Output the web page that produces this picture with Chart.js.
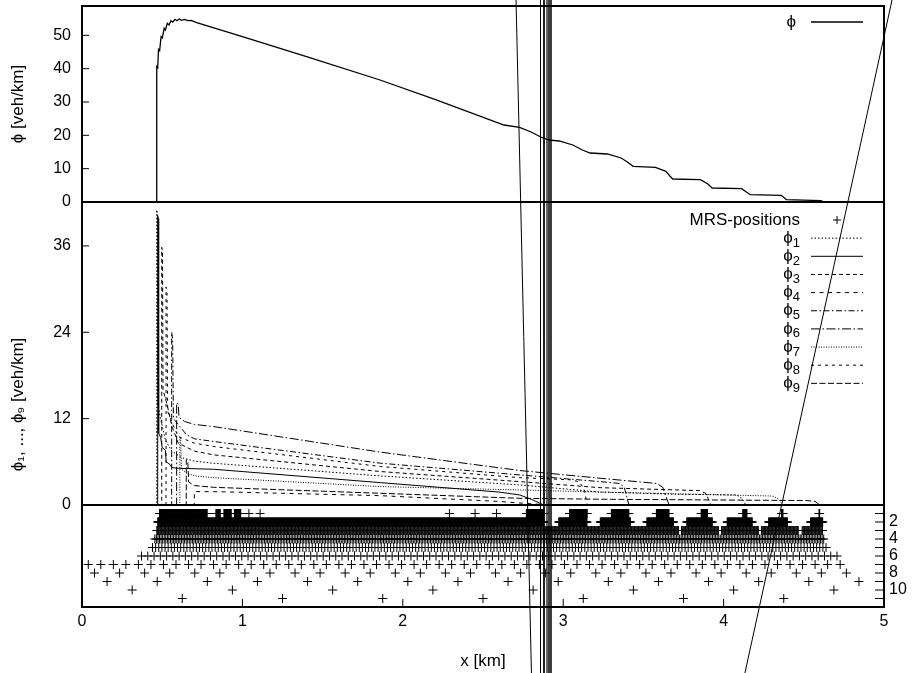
<!DOCTYPE html>
<html>
<head>
<meta charset="utf-8">
<script src="https://cdn.jsdelivr.net/npm/chart.js@4.4.1/dist/chart.umd.min.js"></script>
<style>
  html, body { margin: 0; padding: 0; background: #fff; }
  #wrap { width: 918px; height: 673px; }
</style>
</head>
<body>
<div id="wrap"><canvas id="c" width="918" height="673"></canvas></div>
<script>
// ---- axis ticks -----------------------------------------------------------
const xTicks = [0, 1, 2, 3, 4, 5];
const phiTicks = [0, 10, 20, 30, 40, 50];
const phiPartTicks = [0, 12, 24, 36];
const levelTicks = [1, 2, 3, 4, 5, 6, 7, 8, 9, 10, 11];
const levelLabels = [2, 4, 6, 8, 10];

// ---- total density phi(x) [veh/km] ---------------------------------------
const phiTotal = [
  [0, 0], [0.466, 0], [0.466, 40.6], [0.472, 40.3], [0.477, 45.8], [0.484, 45.4],
  [0.493, 49.6], [0.501, 49.2], [0.512, 52.1], [0.520, 51.6], [0.532, 53.6], [0.542, 53.1],
  [0.555, 54.4], [0.566, 54.0], [0.580, 54.8], [0.592, 54.4], [0.606, 54.9], [0.620, 54.5],
  [0.640, 54.8], [0.660, 54.4], [0.680, 54.5], [0.715, 53.8], [1.0, 49.6], [1.4, 43.6],
  [1.858, 36.6], [2.2, 30.8], [2.631, 23.1], [2.728, 22.4], [2.80, 21.0], [2.86, 19.5],
  [2.91, 18.6], [2.975, 18.3], [3.06, 17.1], [3.12, 15.6], [3.168, 14.7], [3.275, 14.4],
  [3.361, 13.2], [3.40, 12.0], [3.436, 10.7], [3.575, 10.4], [3.64, 9.2], [3.665, 7.8],
  [3.683, 6.9], [3.855, 6.7], [3.90, 5.5], [3.929, 4.2], [4.112, 4.0], [4.14, 3.1],
  [4.166, 2.2], [4.359, 2.0], [4.378, 1.3], [4.391, 0.7], [4.606, 0.4], [4.63, 0], [5, 0]
];

// ---- partial densities phi_1 ... phi_9 [veh/km] ---------------------------
const phi1 = [[0, 0], [0.466, 0], [0.466, 41.0], [0.470, 40.5], [0.472, 14.0], [0.49, 12.0],
  [0.52, 9.0], [0.56, 7.5], [0.62, 6.6], [0.70, 6.1], [0.82, 5.8], [1.86, 4.04], [2.73, 2.79],
  [3.23, 1.8], [3.70, 1.5], [4.08, 1.4], [4.11, 1.0], [4.14, 0], [5, 0]];
const phi2 = [[0, 0], [0.472, 0], [0.472, 40.2], [0.476, 39.8], [0.478, 10.0], [0.49, 9.4],
  [0.50, 8.0], [0.52, 7.6], [0.525, 6.0], [0.55, 5.6], [0.56, 5.2], [0.60, 5.1], [0.82, 4.97],
  [1.86, 3.11], [2.60, 1.8], [2.73, 1.39], [2.80, 0.8], [2.88, 0], [5, 0]];
const phi3 = [[0, 0], [0.497, 0], [0.497, 35.8], [0.502, 35.3], [0.505, 16.0], [0.53, 14.0],
  [0.56, 11.0], [0.60, 8.6], [0.70, 7.5], [0.82, 6.97], [1.86, 4.65], [2.73, 3.25],
  [3.23, 2.41], [3.85, 2.0], [3.89, 1.6], [3.92, 0], [5, 0]];
const phi4 = [[0, 0], [0.70, 0], [0.70, 1.86], [0.82, 1.86], [1.86, 1.3], [2.60, 0.5],
  [2.73, 0.28], [2.85, 0.1], [2.90, 0], [5, 0]];
const phi5 = [[0, 0], [0.559, 0], [0.559, 24.0], [0.565, 23.0], [0.570, 12.0], [0.60, 11.2],
  [0.65, 9.8], [0.70, 9.2], [0.82, 8.83], [1.86, 5.81], [2.73, 4.18], [3.23, 3.25],
  [3.35, 3.0], [3.38, 2.5], [3.41, 0], [5, 0]];
const phi6 = [[0, 0], [0.59, 0], [0.59, 14.2], [0.60, 14.0], [0.605, 12.2], [0.64, 11.6],
  [0.70, 11.2], [0.82, 10.9], [1.86, 7.35], [2.73, 4.79], [3.23, 3.72], [3.58, 3.0],
  [3.62, 2.5], [3.66, 0], [5, 0]];
const phi7 = [[0, 0], [0.61, 0], [0.61, 9.5], [0.615, 9.3], [0.62, 5.0], [0.66, 4.3],
  [0.72, 4.0], [0.82, 3.8], [1.86, 2.56], [2.73, 2.09], [3.23, 1.8], [4.30, 1.25],
  [4.34, 0.9], [4.37, 0], [5, 0]];
const phi8 = [[0, 0], [0.524, 0], [0.524, 30.3], [0.530, 29.5], [0.534, 13.0], [0.56, 11.5],
  [0.60, 9.5], [0.70, 8.6], [0.82, 8.13], [1.86, 5.35], [2.73, 3.8], [3.05, 3.5],
  [3.10, 3.2], [3.13, 2.3], [3.15, 0], [5, 0]];
const phi9 = [[0, 0], [0.65, 0], [0.65, 6.3], [0.66, 6.0], [0.665, 3.2], [0.70, 2.7],
  [0.82, 2.46], [1.86, 1.63], [2.73, 0.93], [3.30, 0.79], [4.52, 0.62], [4.57, 0.5],
  [4.60, 0], [5, 0]];

const partLabels = ['1', '2', '3', '4', '5', '6', '7', '8', '9'];
const partSeries = [phi1, phi2, phi3, phi4, phi5, phi6, phi7, phi8, phi9];
const partDash = [[1.5, 2], [], [4, 3], [4, 4.5], [6, 2.5, 1.5, 2.5], [9, 2.5, 1.5, 2.5],
  [1, 1.5], [3, 4], [6, 2.5]];

// ---- MRS positions: occupied x-ranges [km] on each refinement level -------
// level L holds the dyadic grid points of spacing 5/2^(13-L) km
const mrsLevel1 = [[0.483, 0.78], [0.835, 0.862], [0.885, 0.93], [0.95, 0.99], [1.04, 1.04],
  [1.11, 1.11], [2.29, 2.29], [2.45, 2.45], [2.585, 2.585], [2.77, 2.88], [3.04, 3.15],
  [3.30, 3.41], [3.58, 3.66], [3.86, 3.90], [4.12, 4.145], [4.36, 4.37], [4.595, 4.60]];
const mrsLevel2 = [[0.472, 2.88], [2.97, 3.15], [3.23, 3.42], [3.52, 3.69], [3.77, 3.93],
  [4.02, 4.18], [4.28, 4.40], [4.54, 4.62]];
const mrsLevel3 = [[0.462, 3.72], [3.735, 3.97], [3.985, 4.22], [4.235, 4.47], [4.485, 4.62]];
const mrsLevel4 = [[0.452, 4.63]];
const mrsLevel5 = [[0.43, 4.65]];
const mrsLevel6 = [[0.35, 4.73]];
const mrsLevel7 = [[0.039, 4.80]];
const mrsLevel8 = [[0.078, 4.92]];
const mrsLevel9 = [[0.156, 4.85]];
const mrsLevel10 = [[0.3125, 4.69]];
const mrsLevel11 = [[0.625, 4.375]];
const mrsByLevel = [mrsLevel1, mrsLevel2, mrsLevel3, mrsLevel4, mrsLevel5, mrsLevel6,
  mrsLevel7, mrsLevel8, mrsLevel9, mrsLevel10, mrsLevel11];

// ---- straight lines crossing the whole figure (x [km], phi of upper panel) -
const crossLines = [
  { pts: [[2.706, 60.6], [2.802, -141.3]], w: 1 },
  { pts: [[2.8585, 60.6], [2.8585, -141.3]], w: 1 },
  { pts: [[2.8803, 60.6], [2.8803, -141.3]], w: 1 },
  { pts: [[2.8990, 60.6], [2.8990, -141.3]], w: 1.2 },
  { pts: [[2.9115, 60.6], [2.9115, -141.3]], w: 1.5 },
  { pts: [[2.9239, 60.6], [2.9239, -141.3]], w: 1.5 },
  { pts: [[5.050, 60.6], [4.133, -141.3]], w: 1 }
];

// ---------------------------------------------------------------------------
const FONT = '"Liberation Sans", Arial, Helvetica, sans-serif';
const PHI = 'ϕ';
const toXY = arr => arr.map(([x, y]) => ({ x, y }));

function levelPoints(level, ranges) {
  const h = 5 / Math.pow(2, 14 - level);
  const pts = [];
  ranges.forEach(([a, b]) => {
    const k0 = Math.ceil(a / h - 1e-9), k1 = Math.floor(b / h + 1e-9);
    let n = 0;
    for (let k = k0; k <= k1; k++) {
      if (level !== 11 && k % 2 === 0) continue;
      pts.push({ x: k * h, y: level }); n++;
    }
    if (!n) {
      let k = Math.round(a / h);
      if (level !== 11 && k % 2 === 0) k += 1;
      pts.push({ x: k * h, y: level });
    }
  });
  return pts;
}
const mrsPoints = [];
mrsByLevel.forEach((r, i) => mrsPoints.push(...levelPoints(i + 1, r)));

const datasets = [];
datasets.push({
  label: PHI, data: toXY(phiTotal), yAxisID: 'yTop', borderColor: '#000',
  borderWidth: 1.3, pointRadius: 0, tension: 0, fill: false
});
partSeries.forEach((s, i) => datasets.push({
  label: PHI + partLabels[i], data: toXY(s), yAxisID: 'yMid', borderColor: '#000',
  borderWidth: 1, borderDash: partDash[i], pointRadius: 0, tension: 0, fill: false
}));
datasets.push({
  label: 'MRS-positions', data: mrsPoints, yAxisID: 'yLev', showLine: false,
  pointStyle: 'cross', pointRadius: 4.5, pointBorderWidth: 1, borderColor: '#000',
  pointBorderColor: '#000', backgroundColor: '#000'
});
crossLines.forEach(l => datasets.push({
  label: '', data: toXY(l.pts), yAxisID: 'yTop', borderColor: '#000', borderWidth: l.w,
  pointRadius: 0, clip: false, tension: 0, fill: false
}));

// keys drawn inside the two panels
const keyPlugin = {
  id: 'panelKeys',
  afterDatasetsDraw(chart) {
    const { ctx, chartArea: a, scales } = chart;
    const textR = a.right - 84, lineL = a.right - 73, lineR = a.right - 21;
    ctx.save();
    ctx.fillStyle = '#000';
    ctx.strokeStyle = '#000';
    ctx.textBaseline = 'middle';
    ctx.textAlign = 'right';
    const sample = (ds, y) => {
      ctx.lineWidth = ds.borderWidth;
      ctx.setLineDash(ds.borderDash || []);
      ctx.beginPath(); ctx.moveTo(lineL, y); ctx.lineTo(lineR, y); ctx.stroke();
      ctx.setLineDash([]);
    };
    // upper panel
    const yT = scales.yTop.top + 16;
    ctx.font = '17px ' + FONT;
    ctx.fillText(PHI, textR - 4, yT);
    sample(chart.data.datasets[0], yT);
    // lower panel
    let y = scales.yMid.top + 18;
    ctx.font = '17px ' + FONT;
    ctx.fillText('MRS-positions', textR, y);
    const cx = (lineL + lineR) / 2;
    ctx.lineWidth = 1;
    ctx.beginPath();
    ctx.moveTo(cx - 4, y); ctx.lineTo(cx + 4, y);
    ctx.moveTo(cx, y - 4); ctx.lineTo(cx, y + 4);
    ctx.stroke();
    partLabels.forEach((d, i) => {
      y += 18.15;
      ctx.font = '13px ' + FONT;
      const dw = ctx.measureText(d).width;
      ctx.fillText(d, textR, y + 5);
      ctx.font = '17px ' + FONT;
      ctx.fillText(PHI, textR - dw, y);
      sample(chart.data.datasets[1 + i], y);
    });
    ctx.restore();
  }
};

// frame, panel separators and inward tick marks
const framePlugin = {
  id: 'frame',
  afterDatasetsDraw(chart) {
    const { ctx, chartArea: a, scales: s } = chart;
    ctx.save();
    ctx.strokeStyle = '#000';
    ctx.lineWidth = 1;
    ctx.beginPath();
    xTicks.forEach(v => { const p = s.x.getPixelForValue(v); ctx.moveTo(p, a.bottom); ctx.lineTo(p, a.bottom - 8); });
    phiTicks.forEach(v => { const p = s.yTop.getPixelForValue(v); ctx.moveTo(a.left, p); ctx.lineTo(a.left + 7, p); });
    phiPartTicks.forEach(v => { const p = s.yMid.getPixelForValue(v); ctx.moveTo(a.left, p); ctx.lineTo(a.left + 7, p); });
    levelTicks.forEach(v => { const p = s.yLev.getPixelForValue(v); ctx.moveTo(a.right, p); ctx.lineTo(a.right - 9, p); });
    ctx.stroke();
    ctx.lineWidth = 2;
    ctx.strokeRect(a.left, a.top, a.right - a.left, a.bottom - a.top);
    const ySep = s.yTop.getPixelForValue(0), yZero = s.yMid.getPixelForValue(0);
    ctx.beginPath();
    ctx.moveTo(a.left, ySep); ctx.lineTo(a.right, ySep);
    ctx.moveTo(a.left, yZero); ctx.lineTo(a.right, yZero);
    ctx.stroke();
    ctx.restore();
  }
};

const tickFont = { family: FONT, size: 16 };
const titleFont = { family: FONT, size: 17 };
const setTicks = arr => s => { s.ticks = arr.map(v => ({ value: v })); };
const fixBox = (w, h) => s => {
  if (w !== null) s.width = w;
  if (h !== null) s.height = h;
  s.paddingTop = 0; s.paddingBottom = 0; s.paddingLeft = 0; s.paddingRight = 0;
};

new Chart(document.getElementById('c'), {
  type: 'line',
  data: { datasets },
  options: {
    responsive: false,
    animation: false,
    devicePixelRatio: 1,
    layout: { padding: { top: 6, left: 0, right: 0, bottom: 0 } },
    plugins: { legend: { display: false }, tooltip: { enabled: false }, title: { display: false } },
    scales: {
      x: {
        type: 'linear', position: 'bottom', min: 0, max: 5,
        grid: { display: false, drawTicks: false }, border: { display: false },
        afterBuildTicks: setTicks(xTicks),
        afterFit: fixBox(null, 66),
        ticks: { font: tickFont, color: '#000', padding: 5, autoSkip: false, maxRotation: 0 },
        title: { display: true, text: 'x [km]', font: titleFont, color: '#000', padding: { top: 1, bottom: 1 } }
      },
      yTop: {
        type: 'linear', position: 'left', stack: 'left', stackWeight: 196, weight: 2,
        min: 0, max: 58.8,
        grid: { display: false, drawTicks: false }, border: { display: false },
        afterBuildTicks: setTicks(phiTicks),
        afterFit: fixBox(82, null),
        ticks: { font: tickFont, color: '#000', padding: 11, autoSkip: false },
        title: { display: true, text: PHI + ' [veh/km]', font: titleFont, color: '#000', padding: { top: 8, bottom: 0 } }
      },
      yMid: {
        type: 'linear', position: 'left', stack: 'left', stackWeight: 405, weight: 1,
        min: -14.17, max: 42.1,
        grid: { display: false, drawTicks: false }, border: { display: false },
        afterBuildTicks: setTicks(phiPartTicks),
        afterFit: fixBox(82, null),
        ticks: { font: tickFont, color: '#000', padding: 11, autoSkip: false },
        title: { display: true, text: PHI + '₁, ..., ' + PHI + '₉ [veh/km]', font: titleFont, color: '#000', padding: { top: 8, bottom: 0 } }
      },
      yLev: {
        type: 'linear', position: 'right', reverse: true, min: -58.706, max: 12,
        grid: { display: false, drawTicks: false }, border: { display: false },
        afterBuildTicks: setTicks(levelTicks),
        afterFit: fixBox(34, null),
        ticks: {
          font: tickFont, color: '#000', padding: 5, autoSkip: false,
          callback: v => (levelLabels.includes(v) ? String(v) : '')
        }
      }
    }
  },
  plugins: [framePlugin, keyPlugin]
});
</script>
</body>
</html>
